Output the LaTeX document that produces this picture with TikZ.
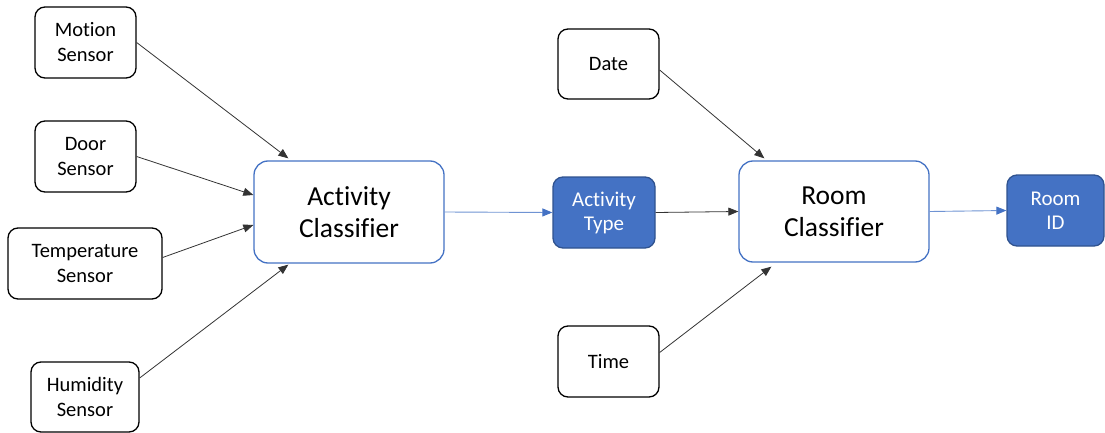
\documentclass[tikz,border=0pt]{standalone}
\usepackage{fontspec}
\setmainfont[Ligatures={NoCommon}]{Carlito}
\usetikzlibrary{arrows.meta}
\definecolor{bblue}{HTML}{4472C4}
\definecolor{dblue}{HTML}{2F528F}
\definecolor{lblue}{HTML}{6F93D3}
\tikzset{
  inbox/.style={draw=black, line width=1.3pt, rounded corners=10pt, fill=white, align=center, font=\fontsize{20.5}{25}\selectfont, inner sep=0pt},
  clsbox/.style={draw=bblue, line width=1.3pt, rounded corners=14pt, fill=white, align=center, font=\fontsize{27.5}{32}\selectfont, inner sep=0pt, minimum width=190pt, minimum height=102pt},
  outbox/.style={draw=dblue, line width=1.3pt, rounded corners=10pt, fill=bblue, text=white, align=center, font=\fontsize{21}{24}\selectfont, inner sep=0pt},
  arr/.style={draw=black!80, line width=0.8pt, -{Triangle[length=10pt,width=8pt]}},
  barr/.style={draw=lblue, line width=0.9pt, -{Triangle[length=10pt,width=8pt, fill=bblue, color=bblue]}}
}
\begin{document}
\begin{tikzpicture}[x=1pt,y=-1pt]
\useasboundingbox (0,0) rectangle (1105,433);
\node[inbox, minimum width=101pt, minimum height=71pt] (motion) at (85.5,42.5) {Motion\\Sensor};
\node[inbox, minimum width=101pt, minimum height=71pt] (door) at (85.5,156.5) {Door\\Sensor};
\node[inbox, minimum width=154pt, minimum height=71pt] (temp) at (85,263.5) {Temperature\\Sensor};
\node[inbox, minimum width=108pt, minimum height=70pt] (hum) at (85,397) {Humidity\\Sensor};
\node[clsbox] (ac) at (349,212) {Activity\\Classifier};
\node[outbox, minimum width=102pt, minimum height=71pt] (at) at (604,212.5) {Activity\\Type};
\node[clsbox, minimum height=101pt] (rc) at (834,211.5) {Room\\Classifier};
\node[outbox, minimum width=97pt, minimum height=71pt] (rid) at (1055.5,210.5) {Room\\ID};
\node[inbox, minimum width=101pt, minimum height=70pt] (date) at (608.5,64) {Date};
\node[inbox, minimum width=101pt, minimum height=71pt] (time) at (608.5,361.5) {Time};

\draw[arr] (motion.east) -- ([xshift=35pt,yshift=2pt]ac.north west);
\draw[arr] (door.east) -- ([yshift=17pt]ac.west);
\draw[arr] ([yshift=6pt]temp.east) -- ([yshift=-13pt]ac.west);
\draw[arr] ([yshift=19pt]hum.east) -- ([xshift=35pt,yshift=-1pt]ac.south west);
\draw[barr] (ac.east) -- (at.west);
\draw[arr] (at.east) -- (rc.west);
\draw[barr] (rc.east) -- (rid.west);
\draw[arr] ([yshift=-6pt]date.east) -- ([xshift=26pt,yshift=2pt]rc.north west);
\draw[arr] ([yshift=9pt]time.east) -- ([xshift=33pt,yshift=-4pt]rc.south west);
\end{tikzpicture}
\end{document}
